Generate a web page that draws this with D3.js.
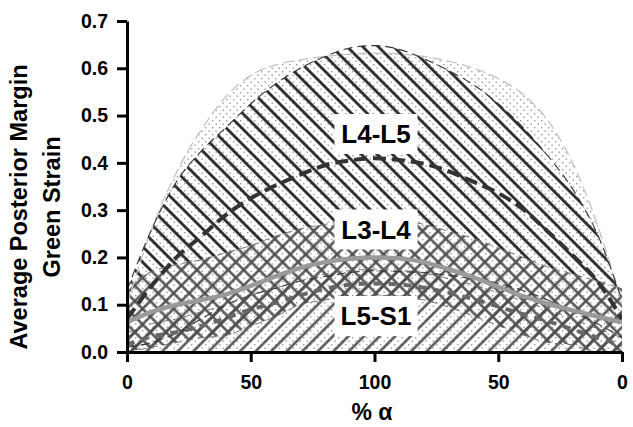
<!DOCTYPE html>
<html>
<head>
<meta charset="utf-8">
<script src="https://cdn.jsdelivr.net/npm/d3@7"></script>
<style>
body { margin: 0; background: #fff; }
text { font-family: "Liberation Sans", Arial, sans-serif; font-weight: bold; }
</style>
</head>
<body>
<div id="chart-area"></div>
<script>

// Data (x = % alpha, 0..100..0 shown as 0..200)
var alphaPts = [0, 10, 20, 30, 40, 50, 60, 70, 80, 90, 100, 110, 120, 130, 140, 150, 160, 170, 180, 190, 200];
var xTicks = [0, 50, 100, 150, 200];
var xTickLabels = ["0", "50", "100", "50", "0"];
var yTicks = [0, 0.1, 0.2, 0.3, 0.4, 0.5, 0.6, 0.7];

// outer dotted envelope
var outerUpper = [0.10, 0.26, 0.38, 0.47, 0.54, 0.585, 0.607, 0.618, 0.625, 0.63, 0.632, 0.63, 0.625, 0.615, 0.60, 0.578, 0.545, 0.49, 0.40, 0.27, 0.10];

// L4-L5
var l45Upper = [0.13, 0.26, 0.36, 0.425, 0.475, 0.525, 0.567, 0.60, 0.625, 0.643, 0.648, 0.64, 0.62, 0.595, 0.565, 0.525, 0.475, 0.415, 0.345, 0.25, 0.11];
var l45Mean  = [0.07, 0.14, 0.20, 0.245, 0.29, 0.325, 0.352, 0.375, 0.395, 0.405, 0.41, 0.406, 0.398, 0.382, 0.36, 0.336, 0.302, 0.255, 0.205, 0.15, 0.07];
var l45Lower = [0.01, 0.02, 0.04, 0.07, 0.10, 0.12, 0.135, 0.15, 0.16, 0.168, 0.172, 0.17, 0.168, 0.162, 0.155, 0.145, 0.13, 0.11, 0.085, 0.06, 0.03];

// L3-L4
var l34Upper = [0.14, 0.17, 0.185, 0.195, 0.21, 0.225, 0.245, 0.26, 0.27, 0.277, 0.28, 0.278, 0.27, 0.255, 0.24, 0.22, 0.20, 0.18, 0.165, 0.15, 0.135];
var l34Mean  = [0.063, 0.085, 0.10, 0.11, 0.122, 0.14, 0.16, 0.178, 0.19, 0.197, 0.20, 0.198, 0.19, 0.175, 0.158, 0.138, 0.118, 0.102, 0.088, 0.075, 0.063];
var l34Lower = [0.0, 0.01, 0.02, 0.03, 0.035, 0.055, 0.075, 0.10, 0.11, 0.117, 0.12, 0.118, 0.11, 0.095, 0.076, 0.056, 0.036, 0.02, 0.015, 0.0, 0.0];

// L5-S1
var l51Upper = [0.04, 0.06, 0.07, 0.085, 0.10, 0.12, 0.135, 0.15, 0.165, 0.172, 0.175, 0.173, 0.167, 0.155, 0.142, 0.125, 0.108, 0.09, 0.07, 0.05, 0.03];
var l51Mean  = [0.015, 0.033, 0.042, 0.055, 0.072, 0.09, 0.104, 0.12, 0.134, 0.142, 0.145, 0.143, 0.136, 0.125, 0.112, 0.096, 0.08, 0.065, 0.048, 0.03, 0.015];

var labels = [
  {name: "L4-L5", x: 100, y: 0.442},
  {name: "L3-L4", x: 100, y: 0.24},
  {name: "L5-S1", x: 100, y: 0.057}
];

// SVG drawing area
var margin = {top: 21, right: 11, bottom: 75, left: 127};
var width = 622 - margin.left,
    height = 352 - margin.top;

var root = d3.select("#chart-area").append("svg")
    .attr("width", 633)
    .attr("height", 427);

var defs = root.append("defs");
var gap = 11;

// dots
var dots = defs.append("pattern")
    .attr("id", "dots").attr("patternUnits", "userSpaceOnUse")
    .attr("width", 7).attr("height", 7);
dots.append("rect").attr("x", 1).attr("y", 1).attr("width", 1.4).attr("height", 1.4).attr("fill", "#999");
dots.append("rect").attr("x", 4.5).attr("y", 4.5).attr("width", 1.4).attr("height", 1.4).attr("fill", "#999");

// back hatch \\\
var back = defs.append("pattern")
    .attr("id", "back").attr("patternUnits", "userSpaceOnUse")
    .attr("width", gap).attr("height", gap)
    .attr("patternTransform", "rotate(-45)");
back.append("line").attr("x1", gap / 2).attr("x2", gap / 2).attr("y1", -1).attr("y2", gap + 1)
    .attr("stroke", "#222").attr("stroke-width", 2.7);

// forward hatch ///
var fwd = defs.append("pattern")
    .attr("id", "fwd").attr("patternUnits", "userSpaceOnUse")
    .attr("width", gap).attr("height", gap)
    .attr("patternTransform", "rotate(45)");
fwd.append("line").attr("x1", gap / 2).attr("x2", gap / 2).attr("y1", -1).attr("y2", gap + 1)
    .attr("stroke", "#4e4e4e").attr("stroke-width", 2.4);

// cross hatch
var cross = defs.append("pattern")
    .attr("id", "cross").attr("patternUnits", "userSpaceOnUse")
    .attr("width", gap).attr("height", gap)
    .attr("patternTransform", "rotate(45)");
cross.append("line").attr("x1", gap / 2).attr("x2", gap / 2).attr("y1", -1).attr("y2", gap + 1)
    .attr("stroke", "#4e4e4e").attr("stroke-width", 2.4);
cross.append("line").attr("y1", gap / 2).attr("y2", gap / 2).attr("x1", -1).attr("x2", gap + 1)
    .attr("stroke", "#4e4e4e").attr("stroke-width", 2.4);

defs.append("clipPath").attr("id", "plotclip")
  .append("rect").attr("width", width).attr("height", height + 1);

var svg = root.append("g")
    .attr("transform", "translate(" + margin.left + "," + margin.top + ")");

// Scales
var x = d3.scaleLinear().domain([0, 200]).range([0, width]);
var y = d3.scaleLinear().domain([0, 0.7]).range([height, 0]);

function band(upper, lower) {
  return d3.area()
    .x(function(d, i) { return x(alphaPts[i]); })
    .y0(function(d, i) { return lower ? y(lower[i]) : y(0); })
    .y1(function(d, i) { return y(upper[i]); })
    .curve(d3.curveMonotoneX)(upper);
}
function curve(vals) {
  return d3.line()
    .x(function(d, i) { return x(alphaPts[i]); })
    .y(function(d) { return y(d); })
    .curve(d3.curveMonotoneX)(vals);
}

// mask so the L4-L5 hatch does not run through the L3-L4 band
var mask = defs.append("mask").attr("id", "m45").attr("maskUnits", "userSpaceOnUse")
    .attr("x", -10).attr("y", -10).attr("width", width + 20).attr("height", height + 20);
mask.append("rect").attr("x", -10).attr("y", -10).attr("width", width + 20).attr("height", height + 20).attr("fill", "#fff");
mask.append("path").attr("d", band(l34Upper, l34Lower)).attr("fill", "#000");

var plot = svg.append("g").attr("clip-path", "url(#plotclip)");

plot.append("path").attr("d", band(outerUpper)).attr("fill", "url(#dots)");
plot.append("path").attr("d", band(l45Upper, l45Lower)).attr("fill", "url(#back)").attr("mask", "url(#m45)");
plot.append("path").attr("d", band(l34Upper, l34Lower)).attr("fill", "url(#cross)");
plot.append("path").attr("d", band(l51Upper)).attr("fill", "url(#fwd)");

// band edges
plot.append("path").attr("d", curve(outerUpper)).attr("fill", "none")
    .attr("stroke", "#c4c4c4").attr("stroke-width", 1.3).attr("stroke-dasharray", "10,5");
[l45Upper, l45Lower].forEach(function(v) {
  plot.append("path").attr("d", curve(v)).attr("fill", "none")
      .attr("stroke", "#333").attr("stroke-width", 1.1).attr("stroke-dasharray", "9,5");
});
[l34Upper, l34Lower, l51Upper].forEach(function(v) {
  plot.append("path").attr("d", curve(v)).attr("fill", "none")
      .attr("stroke", "#666").attr("stroke-width", 0.9).attr("stroke-dasharray", "7,5");
});

// mean curves
plot.append("path").attr("d", curve(l34Mean)).attr("fill", "none")
    .attr("stroke", "#9a9a9a").attr("stroke-width", 4.5);
plot.append("path").attr("d", curve(l51Mean)).attr("fill", "none")
    .attr("stroke", "#666").attr("stroke-width", 4).attr("stroke-dasharray", "8,7");
plot.append("path").attr("d", curve(l45Mean)).attr("fill", "none")
    .attr("stroke", "#333").attr("stroke-width", 4).attr("stroke-dasharray", "13,6");

// labels
var lab = svg.selectAll(".lab").data(labels).enter().append("g").attr("class", "lab");
lab.append("rect")
    .attr("x", function(d) { return x(d.x) - 40; })
    .attr("y", function(d) { return y(d.y) - 29; })
    .attr("width", 83).attr("height", 40)
    .attr("fill", "#fff");
lab.append("text")
    .attr("x", function(d) { return x(d.x) + 1.5; })
    .attr("y", function(d) { return y(d.y); })
    .attr("text-anchor", "middle")
    .attr("font-size", 26)
    .text(function(d) { return d.name; });

// Axes
var xAxis = d3.axisBottom(x).tickValues(xTicks)
    .tickFormat(function(d, i) { return xTickLabels[i]; })
    .tickSize(10).tickSizeOuter(0).tickPadding(13);
var yAxis = d3.axisLeft(y).tickValues(yTicks)
    .tickFormat(d3.format(".1f"))
    .tickSize(10).tickSizeOuter(0).tickPadding(9);

var gx = svg.append("g").attr("class", "axis x-axis")
    .attr("transform", "translate(0," + height + ")").call(xAxis);
var gy = svg.append("g").attr("class", "axis y-axis").call(yAxis);

svg.selectAll(".axis path, .axis line").attr("stroke", "#000").attr("stroke-width", 3);
svg.selectAll(".axis text").attr("fill", "#000").attr("font-size", 19.5)
    .style("font-family", "'Liberation Sans', Arial, sans-serif").style("font-weight", "bold");

// Axis titles
root.append("text").attr("x", 372).attr("y", 420).attr("text-anchor", "middle")
    .attr("font-size", 23).text("% \u03b1");

var yt = root.append("g").attr("transform", "translate(0,207) rotate(-90)");
yt.append("text").attr("x", 0).attr("y", 27).attr("text-anchor", "middle")
    .attr("font-size", 23.5).text("Average Posterior Margin");
yt.append("text").attr("x", 0).attr("y", 60).attr("text-anchor", "middle")
    .attr("font-size", 23.5).text("Green Strain");

</script>
</body>
</html>
